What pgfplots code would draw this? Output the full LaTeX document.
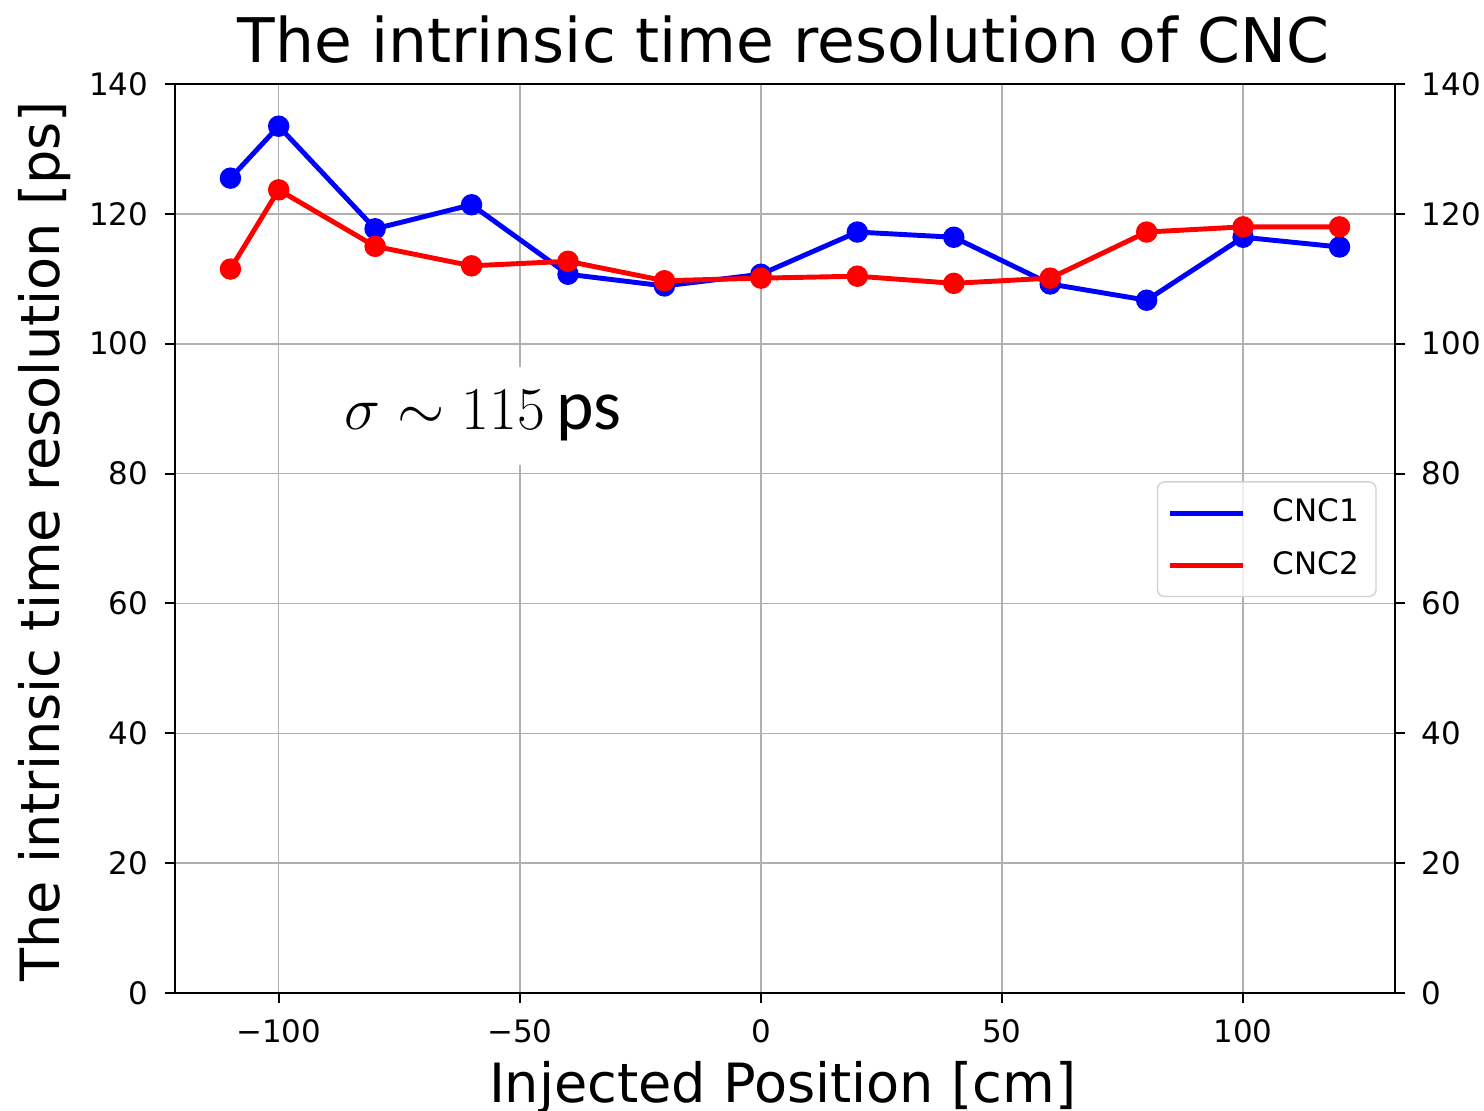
\documentclass[border=0pt]{standalone}
\usepackage{fontspec}
\setmainfont{DejaVu Sans}
\newfontfamily\carlito{Carlito}
\usepackage{pgfplots}
\pgfplotsset{compat=1.18}
\definecolor{gridgray}{RGB}{176,176,176}
\definecolor{legedge}{RGB}{210,210,210}

\begin{document}
\begin{tikzpicture}
\path[use as bounding box] (-17.5mm,-11.7mm) rectangle (130.9mm,99.3mm);
\begin{axis}[
  at={(0,0)}, anchor=south west,
  scale only axis, width=122mm, height=90.9mm,
  xmin=-121.5, xmax=131.5, ymin=0, ymax=140,
  xtick={-100,-50,0,50,100}, xticklabels={−100,−50,0,50,100},
  ytick={0,20,...,140}, yticklabels={0,20,40,60,80,100,120,140},
  xtick pos=bottom, ytick pos=left,
  tick align=outside, major tick length=1mm,
  every tick/.style={black, line width=0.6pt},
  axis line style={line width=0.7pt},
  grid=major, grid style={gridgray, line width=0.45pt},
  tick label style={font=\fontsize{8.8}{10}\selectfont},
  yticklabel style={inner sep=0pt, anchor=east, xshift=-1.6mm},
  xticklabel style={inner sep=0pt, anchor=north, yshift=-1.6mm},
  xlabel={Injected Position [cm]},
  xlabel style={font=\fontsize{15.4}{18}\selectfont, at={(axis description cs:0.498,-0.12)}, anchor=base, inner sep=0pt},
  ylabel={The intrinsic time resolution [ps]},
  ylabel style={font=\fontsize{15.4}{18}\selectfont, at={(axis description cs:-0.0943,0.497)}, anchor=base, rotate=0, inner sep=0pt},
  legend style={at={(axis description cs:0.985,0.563)}, anchor=north east,
    draw=legedge, rounded corners=2pt, fill=white, fill opacity=0.8, text opacity=1,
    font=\fontsize{8.8}{10}\selectfont, inner xsep=1.0mm, inner ysep=1.0mm,
    row sep=1.0mm, cells={anchor=west}},
  legend image code/.code={\draw[mark=none,#1] (0mm,0mm) -- (7.3mm,0mm); \path[draw=none] (0mm,0mm) -- (9.6mm,0mm);},
]
\addplot[blue, line width=1.4pt, mark=*, mark size=2.8pt, mark options={solid, fill=blue, line width=0.5pt}] coordinates {
(-110,125.5) (-100,133.5) (-80,117.7) (-60,121.4) (-40,110.7) (-20,108.9) (0,110.7)
(20,117.2) (40,116.4) (60,109.2) (80,106.7) (100,116.4) (120,114.9)};
\addlegendentry{CNC1}
\addplot[red, line width=1.4pt, mark=*, mark size=2.8pt, mark options={solid, fill=red, line width=0.5pt}] coordinates {
(-110,111.5) (-100,123.7) (-80,115.0) (-60,112.0) (-40,112.7) (-20,109.7) (0,110.1)
(20,110.4) (40,109.3) (60,110.1) (80,117.2) (100,118.0) (120,118.0)};
\addlegendentry{CNC2}
\node[fill=white, minimum height=9.8mm, minimum width=33mm, inner sep=0pt, font=\fontsize{18.8}{21}\selectfont] at (axis cs:-57.6,88.9) {\raisebox{-0.8mm}{$\sigma \sim 115$\,{\carlito\fontsize{20.3}{22}\selectfont ps}}};
\end{axis}
\begin{axis}[
  at={(0,0)}, anchor=south west,
  scale only axis, width=122mm, height=90.9mm,
  xmin=-121.5, xmax=131.5, ymin=0, ymax=140,
  axis x line=none, axis y line*=right,
  ytick={0,20,...,140}, yticklabels={0,20,40,60,80,100,120,140},
  tick align=outside, major tick length=1mm,
  every tick/.style={black, line width=0.6pt},
  axis line style={line width=0.7pt, -},
  tick label style={font=\fontsize{8.8}{10}\selectfont},
  yticklabel style={inner sep=0pt, anchor=west, xshift=1.6mm},
]
\end{axis}
\node[anchor=base, inner sep=0pt, font=\fontsize{17.5}{20}\selectfont] at (60.85mm,93.1mm) {The intrinsic time resolution of CNC};
\end{tikzpicture}
\end{document}
